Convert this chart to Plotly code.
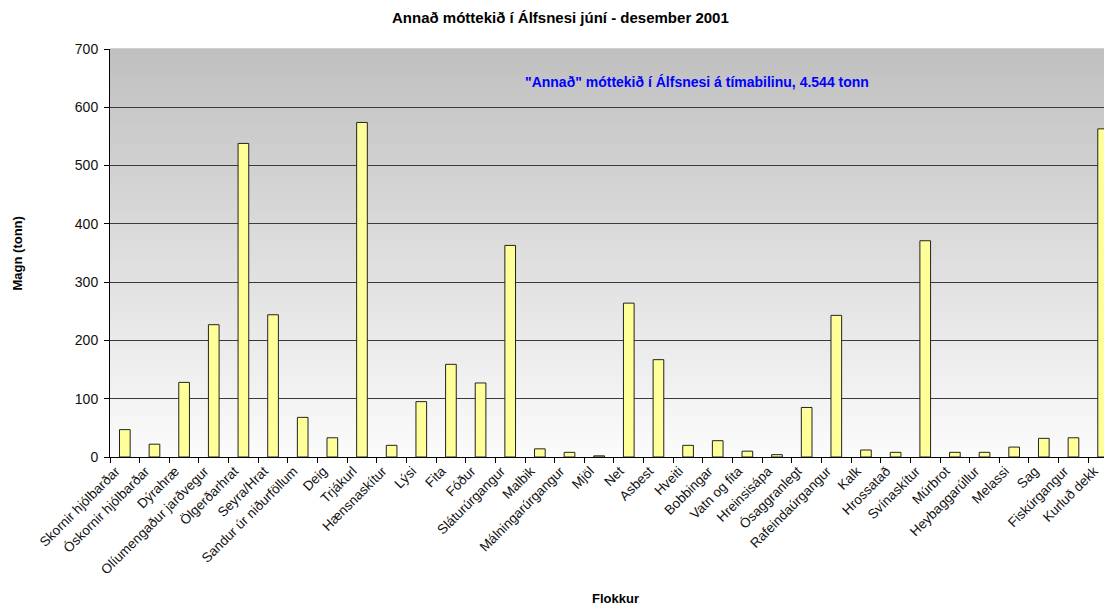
import plotly.graph_objects as go

categories = [
    "Skornir hjólbarðar", "Óskornir hjólbarðar", "Dýrahræ", "Olíumengaður jarðvegur",
    "Ölgerðarhrat", "Seyra/Hrat", "Sandur úr niðurföllum", "Deig", "Trjákurl",
    "Hænsnaskítur", "Lýsi", "Fita", "Fóður", "Sláturúrgangur", "Malbik",
    "Málningarúrgangur", "Mjöl", "Net", "Asbest", "Hveiti", "Bobbingar",
    "Vatn og fita", "Hreinsisápa", "Ósaggranlegt", "Rafeindaúrgangur", "Kalk",
    "Hrossatað", "Svínaskítur", "Múrbrot", "Heybaggarúllur", "Melassi", "Sag",
    "Fiskúrgangur", "Kurluð dekk",
]
values = [47, 22, 128, 227, 538, 244, 68, 33, 574, 20, 95, 159, 127, 363, 14,
          8, 2, 264, 167, 20, 28, 10, 4, 85, 243, 12, 8, 371, 8, 8, 17, 32, 33, 563]
y_ticks = [0, 100, 200, 300, 400, 500, 600, 700]

title_text = "Annað móttekið í Álfsnesi júní - desember 2001"
note_text = "\"Annað\" móttekið í Álfsnesi á tímabilinu, 4.544 tonn"
x_title = "Flokkur"
y_title = "Magn (tonn)"

FONT = "Liberation Sans, Arial, sans-serif"

# page has an 8px body margin; compensate so the plot lands where the reference has it
W, H = 1104, 602
L, T = 102, 41
PLOT_H = 408
B = H - T - PLOT_H
PLOT_W = W - L

fig = go.Figure()
fig.add_trace(go.Bar(
    x=categories, y=values,
    marker=dict(color="#ffff99", line=dict(color="#222222", width=1)),
))

# vertical gradient background (grey at top -> near white at bottom)
n = 60
shapes = []
for i in range(n):
    f0 = i / n
    f1 = (i + 1) / n
    t = (f0 + f1) / 2
    c = int(round(251 - (251 - 192) * t))
    shapes.append(dict(type="rect", xref="x domain", yref="y domain",
                       x0=0, x1=1, y0=f0, y1=f1 + 0.002,
                       fillcolor=f"rgb({c},{c},{c})", line=dict(width=0),
                       layer="below"))


def px(page_x):
    return (page_x - 8 - L) / PLOT_W


fig.update_layout(
    width=W, height=H,
    margin=dict(l=L, r=0, t=T, b=B, autoexpand=False),
    paper_bgcolor="white", plot_bgcolor="white",
    shapes=shapes,
    bargap=0.64,
    showlegend=False,
    font=dict(family=FONT, color="black"),
    xaxis=dict(
        range=[-0.5, 33.3], tickangle=-45, tickson="boundaries",
        ticks="outside", ticklen=5, tickcolor="black",
        showline=True, linecolor="black", linewidth=1,
        tickfont=dict(size=13.5, family=FONT, color="#111111"),
        ticklabelshift=-9,
        showgrid=False, automargin=False,
    ),
    yaxis=dict(
        range=[0, 700], tickvals=y_ticks,
        ticks="outside", ticklen=5, tickcolor="black",
        showline=True, linecolor="black", linewidth=1,
        showgrid=True, gridcolor="#3a3a3a", gridwidth=1.3,
        tickfont=dict(size=14, family=FONT, color="#111111"),
        zeroline=False, automargin=False, ticklabelstandoff=3,
    ),
    annotations=[
        dict(text=f"<b>{title_text}</b>", xref="paper", yref="paper",
             x=px(560), xanchor="center", y=1, yanchor="middle", yshift=32,
             showarrow=False,
             font=dict(size=15, family=FONT, color="black")),
        dict(text=f"<b>{note_text}</b>", xref="paper", yref="y",
             x=px(697), xanchor="center", y=643, yanchor="middle", showarrow=False,
             font=dict(size=14, family=FONT, color="#0000ff")),
        dict(text=f"<b>{x_title}</b>", xref="paper", yref="paper",
             x=px(615), xanchor="center", y=0, yanchor="middle", yshift=-141,
             showarrow=False,
             font=dict(size=13, family=FONT, color="black")),
        dict(text=f"<b>{y_title}</b>", xref="paper", yref="paper",
             x=px(18), xanchor="center", y=(456 - 253) / 407, yanchor="middle",
             textangle=-90, showarrow=False,
             font=dict(size=13, family=FONT, color="black")),
    ],
)

fig.write_html("out.html")
